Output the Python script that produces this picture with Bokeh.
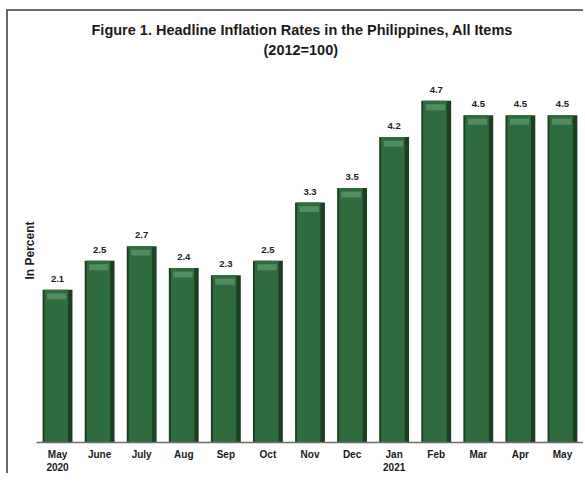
from bokeh.plotting import figure
from bokeh.models import ColumnDataSource, FactorRange, Range1d, Title, FixedTicker
from bokeh.transform import dodge
from bokeh.core.properties import value
from bokeh.embed import file_html
from bokeh.resources import INLINE

months = ["May\n2020", "June", "July", "Aug", "Sep", "Oct", "Nov", "Dec",
          "Jan\n2021", "Feb", "Mar", "Apr", "May"]
rates = [2.1, 2.5, 2.7, 2.4, 2.3, 2.5, 3.3, 3.5, 4.2, 4.7, 4.5, 4.5, 4.5]
rate_labels = [f"{r:.1f}" for r in rates]

title_main = "Figure 1. Headline Inflation Rates in the Philippines, All Items"
title_sub = "(2012=100)"
y_title = "In Percent"

src = ColumnDataSource(dict(
    month=months, rate=rates, label=rate_labels,
    hi_top=[r - 0.05 for r in rates], hi_bot=[r - 0.13 for r in rates],
))

p = figure(x_range=FactorRange(*months), y_range=Range1d(0, 5.28),
           width=577, height=464, output_backend="svg", toolbar_location=None,
           min_border_left=28, min_border_right=2, min_border_top=47,
           min_border_bottom=0)
p.title.visible = False

t2 = Title(text=title_sub, align="left", text_font="Liberation Sans",
           text_font_size="14.5px", text_font_style="bold", text_color="#1a1a1a",
           standoff=2, offset=227)
t1 = Title(text=title_main, align="left", text_font="Liberation Sans",
           text_font_size="14.5px", text_font_style="bold", text_color="#1a1a1a",
           standoff=2, offset=55)
p.add_layout(t2, "above")
p.add_layout(t1, "above")

p.styles = {"border-left": "2px solid #6a6a6a", "border-top": "2px solid #6a6a6a",
            "margin-left": "6px", "margin-top": "9px"}

# bar body (dark edges)
p.vbar(x="month", top="rate", bottom=0, width=0.71, source=src,
       fill_color="#1c3f23", line_color=None)
# lighter inner face
p.vbar(x=dodge("month", -0.03, range=p.x_range), top="rate", bottom=0, width=0.56,
       source=src, fill_color="#2e6c3d", line_color=None)
# top highlight
p.vbar(x=dodge("month", -0.02, range=p.x_range), top="hi_top", bottom="hi_bot",
       width=0.46, source=src, fill_color="#5a966a", line_color=None, fill_alpha=0.8)

p.text(x="month", y="rate", text="label", source=src, y_offset=-8,
       text_align="center", text_baseline="bottom",
       text_font=value("Liberation Sans"), text_font_style="bold",
       text_font_size="9.5px", text_color="#222222")

p.xgrid.visible = False
p.ygrid.visible = False
p.outline_line_color = None
p.background_fill_color = "white"
p.border_fill_color = "white"

xa = p.xaxis[0]
xa.axis_line_color = "#6e6e6e"
xa.axis_line_width = 1.5
xa.major_tick_line_color = None
xa.minor_tick_line_color = None
xa.major_label_standoff = 0
xa.major_label_text_font = "Liberation Sans"
xa.major_label_text_font_style = "bold"
xa.major_label_text_font_size = "10px"
xa.major_label_text_color = "#1a1a1a"

ya = p.yaxis[0]
ya.ticker = FixedTicker(ticks=[])
ya.axis_line_color = None
ya.major_tick_line_color = None
ya.minor_tick_line_color = None
ya.major_label_standoff = 0
ya.axis_label = y_title
ya.axis_label_standoff = 0
ya.axis_label_text_font = "Liberation Sans"
ya.axis_label_text_font_style = "bold"
ya.axis_label_text_font_size = "12px"
ya.axis_label_text_color = "#1a1a1a"

open("out.html", "w").write(file_html(p, INLINE))
